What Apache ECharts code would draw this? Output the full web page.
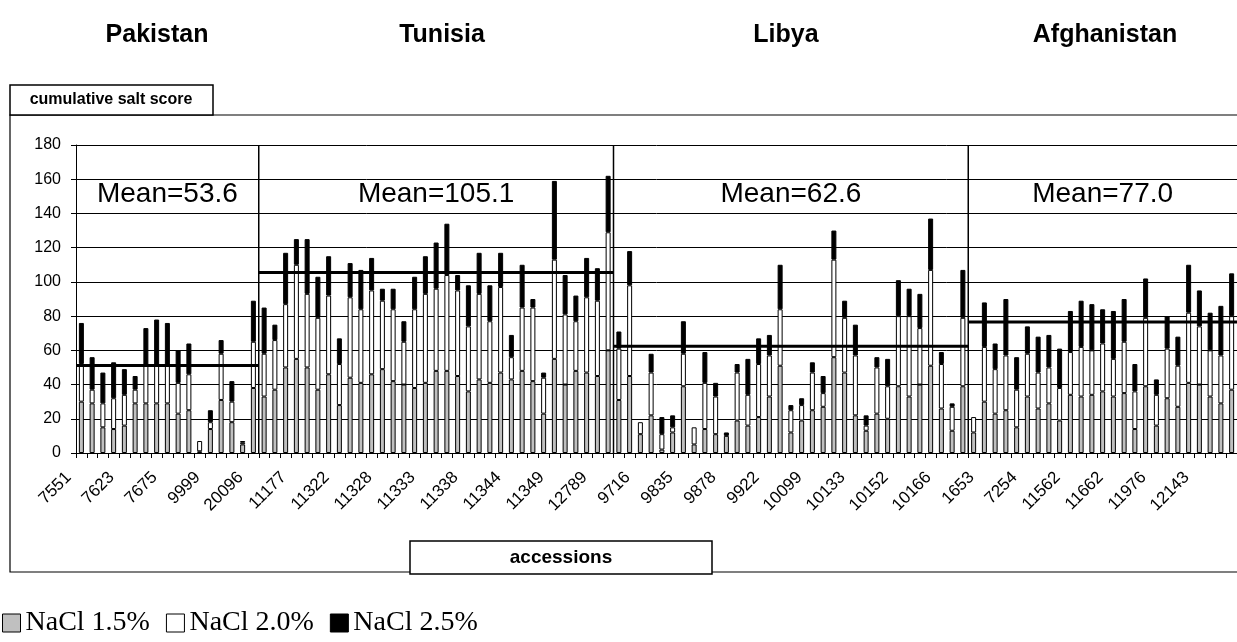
<!DOCTYPE html>
<html>
<head>
<meta charset="utf-8">
<script src="https://cdn.jsdelivr.net/npm/echarts@6/dist/echarts.min.js"></script>
<style>
html,body{margin:0;padding:0;background:#fff;}
#chart{width:1237px;height:642px;}
</style>
</head>
<body>
<div id="chart"></div>
<script>
// ---- data ----
const groups = ['Pakistan', 'Tunisia', 'Libya', 'Afghanistan'];
const groupSizes = [17, 33, 33, 25];
const groupMeans = [53.6, 105.1, 62.6, 77.0];
const meanLineLevels = [51.2, 105.5, 62.4, 76.5];   // as drawn in the picture

// shown tick labels (every 4th accession)
const tickLabels = ['7551','7623','7675','9999','20096','11177','11322','11328','11333','11338',
  '11344','11349','12789','9716','9835','9878','9922','10099','10133','10152','10166',
  '1653','7254','11562','11662','11976','12143'];

// NaCl 1.5% (grey)
const nacl15 = [
  30,29,15,14,16,29,29,29,29,23,25,1,14,31,18,5,38,
  33,37,50,55,50,37,46,28,44,41,46,49,42,40,38,41,48,48,45,36,43,41,47,43,48,42,23,55,40,48,47,45,60,
  31,45,11,22,2,12,39,5,14,11,10,19,16,21,33,51,12,19,25,27,56,47,22,13,23,20,39,33,40,51,26,13,39,
  12,30,23,25,15,33,26,29,19,34,33,34,36,33,35,14,39,16,32,27,41,40,33,29,37
];
// NaCl 2.0% (white)
const nacl20 = [
  22,8,14,18,18,8,22,22,22,18,21,6,4,27,12,1,27,
  25,29,37,55,43,42,46,24,47,43,49,40,42,25,46,52,48,56,50,38,50,36,50,13,37,43,21,58,41,29,44,44,69,
  30,53,7,25,9,3,19,10,27,22,0,28,18,31,24,33,13,9,22,8,57,32,35,3,27,19,41,47,33,56,26,14,40,
  9,32,26,32,22,25,21,21,19,25,29,26,28,22,30,22,40,18,29,24,41,34,27,28,43
];
// NaCl 2.5% (black)
const nacl25 = [
  24,19,18,21,15,8,22,27,25,19,18,0,7,8,12,1,24,
  27,9,30,15,32,24,23,15,20,23,19,7,12,12,19,22,27,30,9,24,24,21,20,13,25,5,3,46,23,15,23,19,33,
  10,20,0,11,10,7,19,0,18,8,2,5,21,15,12,26,3,4,6,10,17,10,18,6,6,16,21,16,20,30,7,2,28,
  0,26,15,33,19,16,21,19,23,24,27,27,20,28,25,16,23,9,19,17,28,21,22,29,25
];

// ---- build ----
const nCat = nacl15.length;
const catIds = nacl15.map((_, i) => String(i));
const nz = arr => arr.map(v => (v ? v : null));

const starts = [];
let acc = 0;
groupSizes.forEach(s => { starts.push(acc); acc += s; });

const FONT = 'Liberation Sans, Arial, sans-serif';

const barCommon = {
  type: 'bar', stack: 'salt', barWidth: 5, xAxisIndex: 0, yAxisIndex: 0,
  animation: false
};

const series = [
  Object.assign({}, barCommon, { name: 'NaCl 1.5%', data: nz(nacl15),
    itemStyle: { color: '#c0c0c0', borderColor: '#000', borderWidth: 1 } }),
  Object.assign({}, barCommon, { name: 'NaCl 2.0%', data: nz(nacl20),
    itemStyle: { color: '#ffffff', borderColor: '#000', borderWidth: 1 } }),
  Object.assign({}, barCommon, { name: 'NaCl 2.5%', data: nz(nacl25),
    itemStyle: { color: '#000000', borderColor: '#000', borderWidth: 1 } })
];

// group dividers
starts.slice(1).forEach(s => {
  series.push({
    type: 'line', xAxisIndex: 1, yAxisIndex: 0, silent: true, animation: false,
    data: [[s, 0], [s, 180]], symbol: 'none',
    lineStyle: { color: '#000', width: 1.5 }
  });
});
// mean lines
groups.forEach((g, i) => {
  series.push({
    type: 'line', xAxisIndex: 1, yAxisIndex: 0, silent: true, animation: false, z: 5,
    data: [[starts[i], meanLineLevels[i]], [starts[i] + groupSizes[i], meanLineLevels[i]]],
    symbol: 'none', lineStyle: { color: '#000', width: 3 }
  });
});
// mean labels
series.push({
  type: 'scatter', xAxisIndex: 1, yAxisIndex: 0, silent: true, animation: false,
  symbolSize: 1, itemStyle: { color: '#fff', opacity: 1 },
  data: groups.map((g, i) => [starts[i] + groupSizes[i] / 2, 151, i]),
  label: {
    show: true, position: 'inside',
    formatter: p => 'Mean=' + groupMeans[p.data[2]].toFixed(1),
    color: '#000', fontFamily: FONT, fontSize: 28,
    textBorderWidth: 0, textBorderColor: 'transparent', opacity: 1
  }
});

const titleCenters = [152, 437, 781, 1100];

const option = {
  backgroundColor: '#fff',
  animation: false,
  title: groups.map((g, i) => ({
    text: g, left: titleCenters[i], top: 18, textAlign: 'center',
    textStyle: { fontFamily: FONT, fontWeight: 'bold', fontSize: 25, color: '#000' }
  })),
  legend: {
    data: ['NaCl 1.5%', 'NaCl 2.0%', 'NaCl 2.5%'],
    left: 2, top: 609, padding: 0, icon: 'rect', itemWidth: 18, itemHeight: 18, itemGap: 16,
    itemStyle: { borderColor: '#000', borderWidth: 1 },
    textStyle: { fontFamily: 'Liberation Serif, Times New Roman, serif', fontSize: 28, color: '#000' }
  },
  grid: { left: 76, top: 145, right: 0, bottom: 189, containLabel: false },
  xAxis: [
    {
      type: 'category', data: catIds, boundaryGap: true,
      axisLine: { lineStyle: { color: '#000', width: 1 } },
      axisTick: { show: true, interval: 0, length: 5, lineStyle: { color: '#000' } },
      axisLabel: {
        interval: 3, rotate: 45, margin: 9, padding: [0, 18, 0, 0],
        formatter: (v, idx) => (idx % 4 === 0 ? tickLabels[idx / 4] || '' : ''),
        fontFamily: FONT, fontSize: 17, color: '#000'
      },
      splitLine: { show: false }
    },
    {
      type: 'value', min: 0, max: nCat, show: false, position: 'bottom'
    }
  ],
  yAxis: {
    type: 'value', min: 0, max: 180, interval: 20,
    axisLine: { show: true, lineStyle: { color: '#000', width: 1 } },
    axisTick: { show: true, length: 5, lineStyle: { color: '#000' } },
    axisLabel: { fontFamily: FONT, fontSize: 16, color: '#000', margin: 15 },
    splitLine: { show: true, lineStyle: { color: '#000', width: 1 } }
  },
  graphic: [
    { type: 'rect', shape: { x: 10, y: 115, width: 1300, height: 457 },
      style: { fill: 'none', stroke: '#000', lineWidth: 1.2 }, z: -1, silent: true },
    { type: 'rect', shape: { x: 10, y: 85, width: 203, height: 30 },
      style: { fill: '#fff', stroke: '#000', lineWidth: 1.5 }, silent: true },
    { type: 'text', x: 111, y: 100, silent: true,
      style: { text: 'cumulative salt score', fill: '#000', font: 'bold 16px ' + FONT, align: 'center', verticalAlign: 'middle' } },
    { type: 'rect', shape: { x: 410, y: 541, width: 302, height: 33 },
      style: { fill: '#fff', stroke: '#000', lineWidth: 1.5 }, silent: true },
    { type: 'text', x: 561, y: 558, silent: true,
      style: { text: 'accessions', fill: '#000', font: 'bold 19px ' + FONT, align: 'center', verticalAlign: 'middle' } }
  ],
  series: series
};

const chart = echarts.init(document.getElementById('chart'), null, { renderer: 'canvas' });
chart.setOption(option);
</script>
</body>
</html>
